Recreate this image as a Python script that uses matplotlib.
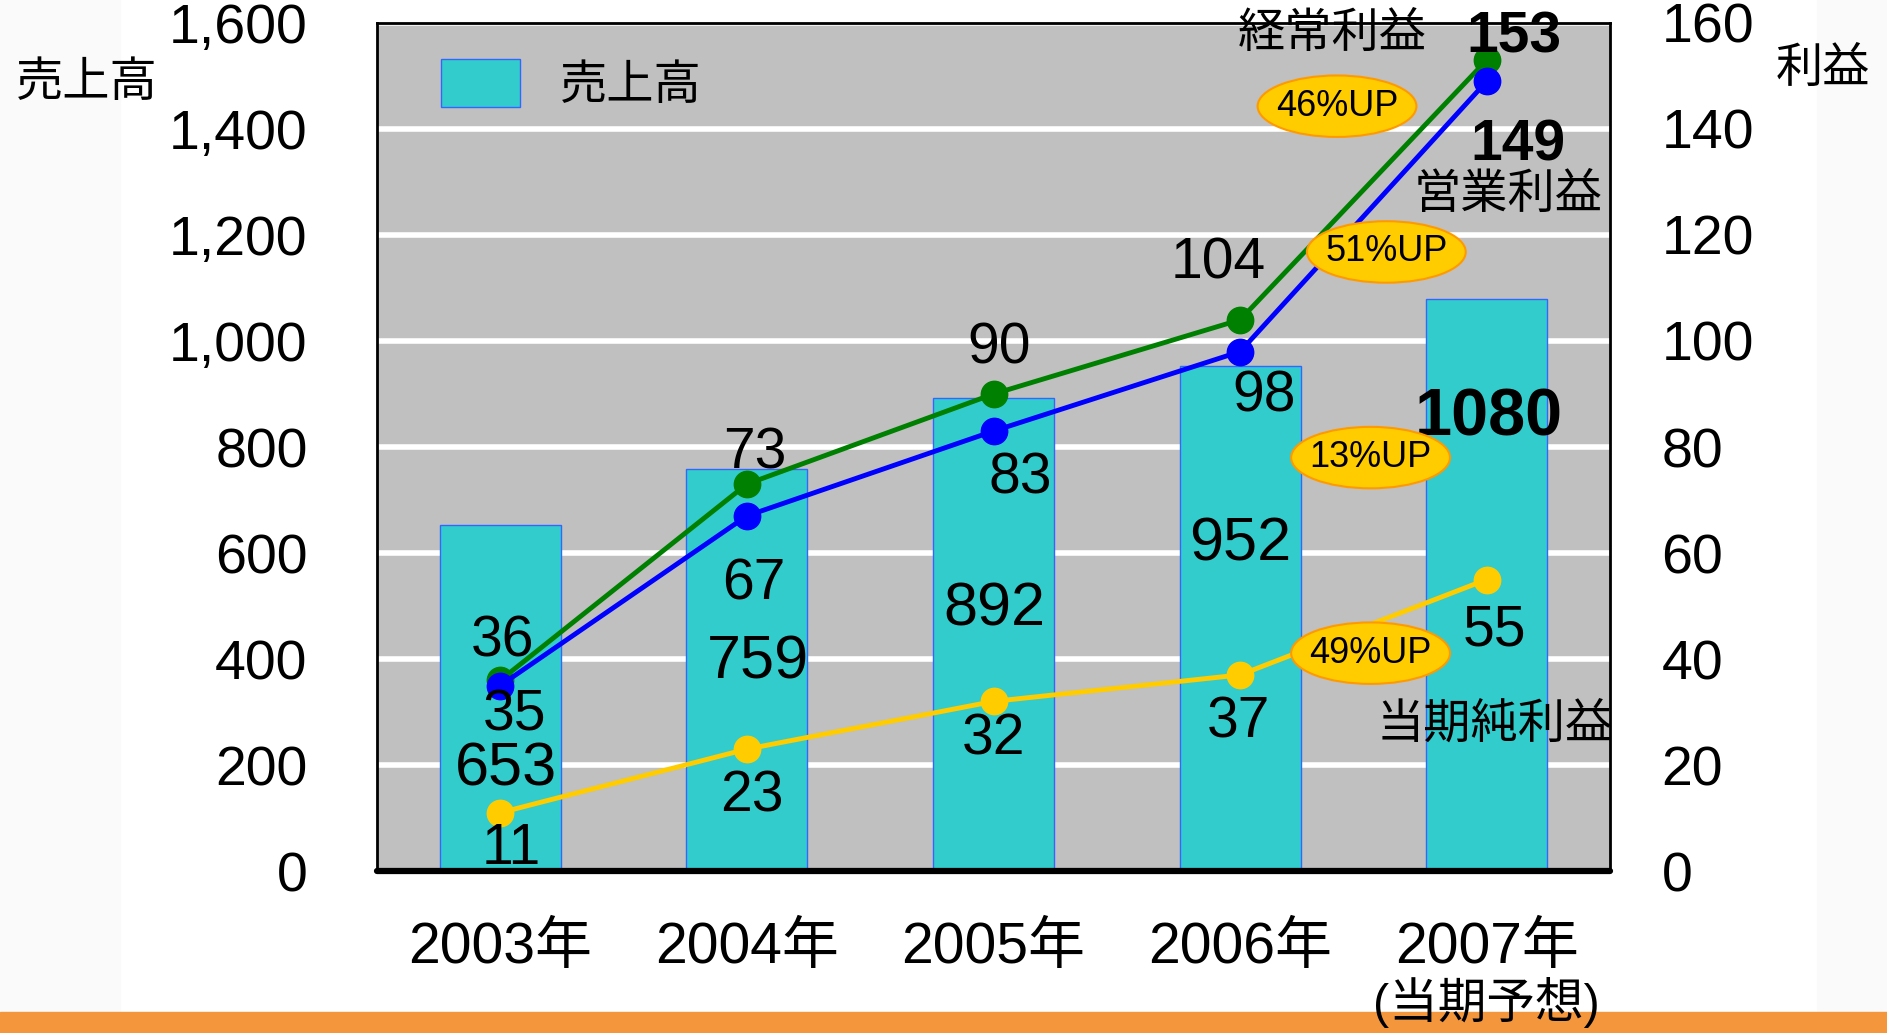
import matplotlib.pyplot as plt
import numpy as np
from matplotlib.patches import Ellipse, Rectangle

years = ['2003年', '2004年', '2005年', '2006年', '2007年']
year_note = '(当期予想)'
sales = [653, 759, 892, 952, 1080]
ordinary = [36, 73, 90, 104, 153]      # 経常利益
operating = [35, 67, 83, 98, 149]      # 営業利益
net = [11, 23, 32, 37, 55]             # 当期純利益
growth = ['46%UP', '51%UP', '13%UP', '49%UP']

JP = ['Liberation Sans', 'Noto Sans CJK JP', 'DejaVu Sans']
plt.rcParams['font.family'] = JP

W, H = 1887, 1033
fig = plt.figure(figsize=(W / 100, H / 100), dpi=100)
fig.patch.set_facecolor('white')

# faint side strips and orange band at the bottom
fig.patches.append(Rectangle((0, 0), 120 / W, 1, transform=fig.transFigure, color='#fafafa', zorder=-2))
fig.patches.append(Rectangle((1817 / W, 0), 1, 1, transform=fig.transFigure, color='#fafafa', zorder=-2))
fig.patches.append(Rectangle((0, 0), 1, 21 / H, transform=fig.transFigure, color='#f4963c', zorder=-1))

L, R, T, B = 377, 1610, 23, 871
ax = fig.add_axes([L / W, 1 - B / H, (R - L) / W, (B - T) / H])
ax.set_facecolor('#c0c0c0')
x = np.arange(len(years))

ax.bar(x, sales, width=0.49, color='#33cccc', edgecolor='#3366ff', linewidth=1, zorder=2, label='売上高')
ax.set_xlim(-0.5, 4.5)
ax.set_ylim(0, 1600)
ax.set_yticks(np.arange(0, 1601, 200))
ax.set_yticklabels([f'{v:,}' for v in range(0, 1601, 200)])
ax.yaxis.grid(True, color='white', linewidth=4, zorder=1)
ax.set_axisbelow(True)
ax.set_xticks(x)
ax.set_xticklabels(years, fontsize=41, va='top')
ax.tick_params(axis='x', length=0, pad=36)
ax.tick_params(axis='y', length=0, pad=50, labelsize=40)
for s in ['left', 'right', 'top']:
    ax.spines[s].set_linewidth(2)
ax.spines['bottom'].set_linewidth(4.5)
ax.spines['bottom'].set_capstyle('round')

# note under the 2007 label
ax.annotate(year_note, (x[4], 0), xycoords=('data', 'axes fraction'), xytext=(0, -131 * 0.72),
            textcoords='offset points', ha='center', va='center', fontsize=35)

# bar value labels
bar_lab_x = [0.022, 1.046, 2.002, 3.002, 4.007]
bar_lab_y = [190, 392, 492, 615, 854]
for i, v in enumerate(sales):
    big = i == 4
    ax.text(bar_lab_x[i], bar_lab_y[i], str(v), ha='center', va='center',
            fontsize=48 if big else 44, fontweight='bold' if big else 'normal', zorder=5)

ax.text(-0.235, 1.0 - 61 / (B - T), '売上高', transform=ax.transAxes, fontsize=34, ha='center', va='center')

leg = ax.legend(loc='upper left', bbox_to_anchor=(0.052, 0.958), frameon=False, fontsize=34,
                handlelength=1.66, handleheight=1.2, handletextpad=0.85, borderpad=0, borderaxespad=0)

ax2 = ax.twinx()
ax2.set_ylim(0, 160)
ax2.set_yticks(np.arange(0, 161, 20))
ax2.tick_params(axis='y', length=0, pad=37, labelsize=40)
for s in ax2.spines.values():
    s.set_visible(False)

ax2.plot(x, ordinary, color='#008000', lw=3.5, marker='o', ms=19, zorder=3)
ax2.plot(x, operating, color='#0000ff', lw=3.5, marker='o', ms=19, zorder=3)
ax2.plot(x, net, color='#ffcc00', lw=3.5, marker='o', ms=19, zorder=3)

ord_off = [(1.7, 27.7), (6, 21.7), (4.3, 32.9), (-15.6, 40.7), (19.9, 16.5)]
op_off = [(10.4, -21.7), (5.2, -49.4), (19, -33.8), (17.3, -32), (22.5, -45.9)]
net_off = [(7.8, -26), (3.5, -33.8), (0, -27.7), (-0.9, -34.6), (5.2, -36.4)]
for vals, offs in [(ordinary, ord_off), (operating, op_off), (net, net_off)]:
    for i, v in enumerate(vals):
        big = i == 4 and vals is not net
        ax2.annotate(str(v), (x[i], v), xytext=offs[i], textcoords='offset points',
                     ha='center', va='center', fontsize=41, fontweight='bold' if big else 'normal', zorder=5)

ax2.text(3.373, 157.7, '経常利益', fontsize=34, ha='center', va='center', zorder=5)
ax2.text(4.085, 127.3, '営業利益', fontsize=34, ha='center', va='center', zorder=5)
ax2.text(4.032, 27.5, '当期純利益', fontsize=34, ha='center', va='center', zorder=5)
ax2.text(1.0 + 213 / (R - L), 1.0 - 47 / (B - T), '利益', transform=ax2.transAxes,
         fontsize=34, ha='center', va='center')

ell_x = [3.393, 3.593, 3.529, 3.529]
ell_y = [144.3, 116.8, 78.0, 41.1]
for ex, ey, g in zip(ell_x, ell_y, growth):
    ax2.add_patch(Ellipse((ex, ey), 0.644, 11.6, facecolor='#ffcc00', edgecolor='#ff9900', lw=1.5, zorder=6))
    ax2.text(ex, ey, g, fontsize=26, ha='center', va='center', zorder=7)

fig.savefig('out.png', dpi=100)
